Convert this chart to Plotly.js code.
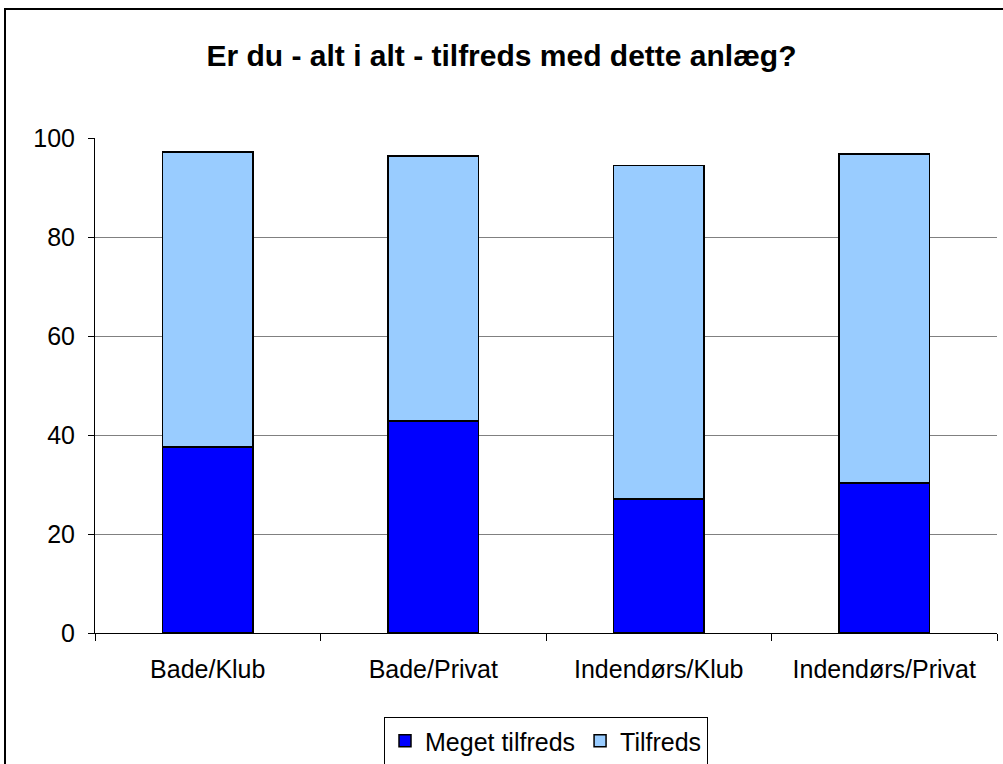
<!DOCTYPE html>
<html>
<head>
<meta charset="utf-8">
<script src="https://cdn.plot.ly/plotly-3.0.1.min.js"></script>
<style>
html,body{margin:0;padding:0;background:#fff;}
#wrap{position:relative;width:1003px;height:764px;overflow:hidden;}
#chart{width:1003px;height:764px;}
#frame{position:absolute;left:4px;top:8px;width:1010px;height:770px;border:2px solid #000;pointer-events:none;box-sizing:border-box;}
</style>
</head>
<body>
<div id="wrap"><div id="chart"></div><div id="frame"></div></div>
<script>
const categories = ["Bade/Klub", "Bade/Privat", "Indendørs/Klub", "Indendørs/Privat"];
const megetTilfreds = [37.6, 42.8, 27.1, 30.3];
const totalTop = [97.2, 96.4, 94.4, 96.8];
const tilfreds = totalTop.map((t, i) => +(t - megetTilfreds[i]).toFixed(1));
const seriesNames = ["Meget tilfreds", "Tilfreds"];
const yTicks = [0, 20, 40, 60, 80, 100];

const font = "Liberation Sans, Arial, sans-serif";

const traces = [
  {type: "bar", name: seriesNames[0], x: categories, y: megetTilfreds,
   marker: {color: "#0000FF", line: {color: "#000", width: 1.5}}, width: 0.4},
  {type: "bar", name: seriesNames[1], x: categories, y: tilfreds,
   marker: {color: "#99CCFF", line: {color: "#000", width: 1.5}}, width: 0.4}
];

const layout = {
  width: 1003, height: 764,
  barmode: "stack",
  paper_bgcolor: "#fff", plot_bgcolor: "#fff",
  margin: {l: 95, r: 6, t: 138, b: 131, autoexpand: false},
  font: {family: font, size: 25, color: "#000"},
  title: {text: "<b>Er du - alt i alt - tilfreds med dette anlæg?</b>",
          font: {family: font, size: 30, color: "#000"},
          x: 0.5, xref: "container", y: 1 - 55/764, yref: "container", yanchor: "middle"},
  xaxis: {type: "category", tickson: "boundaries", ticks: "outside", ticklen: 7,
          tickcolor: "#000", showline: true, linecolor: "#000", linewidth: 1,
          showgrid: false, automargin: false, ticklabelstandoff: 14,
          tickfont: {family: font, size: 25, color: "#000"}},
  yaxis: {range: [0, 100], tickvals: yTicks, ticks: "outside", ticklen: 6,
          tickcolor: "#000", showline: true, linecolor: "#000", linewidth: 1,
          showgrid: true, gridcolor: "#808080", gridwidth: 1, zeroline: false,
          automargin: false,
          tickfont: {family: font, size: 25, color: "#000"}, ticklabelstandoff: 8},
  showlegend: true,
  legend: {orientation: "h", x: 0.5, xanchor: "center", y: -0.1697, yanchor: "top",
           bordercolor: "#000", borderwidth: 1, bgcolor: "#fff",
           font: {family: font, size: 25, color: "#000"}, traceorder: "normal",
           itemwidth: 30}
};

Plotly.newPlot("chart", traces, layout, {staticPlot: true});
</script>
</body>
</html>
